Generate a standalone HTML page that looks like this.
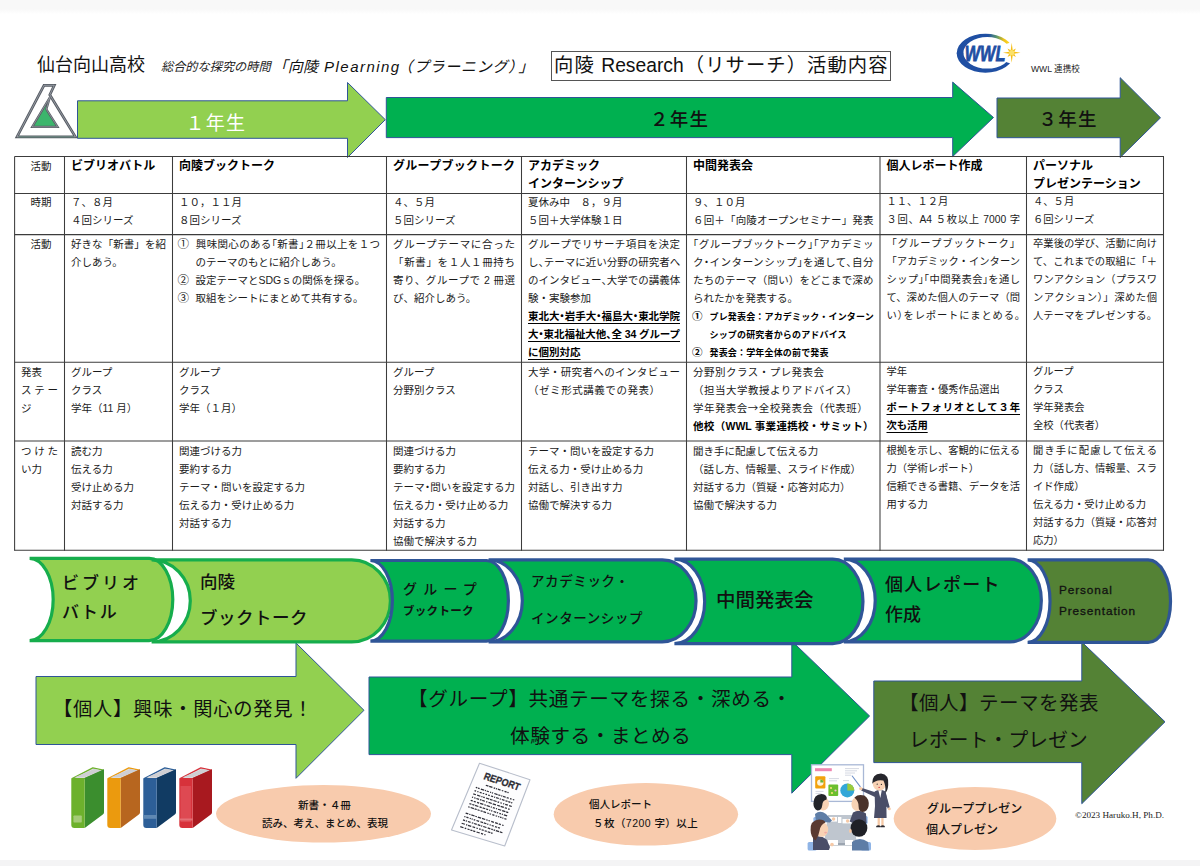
<!DOCTYPE html>
<html lang="ja">
<head>
<meta charset="utf-8">
<title>向陵 Research（リサーチ）活動内容</title>
<style>
html,body{margin:0;padding:0;}
body{width:1200px;height:866px;overflow:hidden;background:#fff;position:relative;
  font-family:"Liberation Sans","Noto Sans CJK JP",sans-serif;color:#111;}
#page{position:absolute;left:0;top:0;width:1200px;height:866px;overflow:hidden;background:#fff;}
.band-top{position:absolute;left:0;top:0;width:1200px;height:14px;background:linear-gradient(#f8f8f8 0,#f8f8f8 9px,#fff 14px);}
.band-bot{position:absolute;left:0;top:860px;width:1200px;height:6px;background:#f4f4f5;}
#shapes{position:absolute;left:0;top:0;width:1200px;height:866px;}
.t{position:absolute;white-space:nowrap;line-height:1;}
/* table */
.cell{position:absolute;font-size:10.5px;line-height:18.1px;color:#1a1a1a;}
.cell div{white-space:nowrap;height:18.1px;}
.cell.c6,.cell.c7{font-size:10.3px;}
.cell.r2.c4 .p .b{letter-spacing:-0.12px;}
.cell .j{text-align:justify;text-align-last:justify;}
.cell .p{font-feature-settings:"halt";}
.w5{font-weight:500;color:#111;}
.hd{font-size:12px;font-weight:700;color:#000;}
.b{font-weight:700;color:#000;}
.u{text-decoration:underline;text-underline-offset:3px;text-decoration-thickness:1px;}
.sm{font-size:9px;font-weight:700;color:#000;letter-spacing:0.17px;}
.cell .c{padding-left:9.5px;}
.cell .cj{font-family:"Noto Sans CJK JP",sans-serif;}
.cell .n{display:inline-block;width:18px;margin-left:-1.5px;text-align:left;font-family:"Noto Sans CJK JP",sans-serif;font-size:11.5px;line-height:1;}
.cell .n2{display:inline-block;width:17.5px;margin-left:-1px;text-align:left;font-size:10.5px;font-weight:700;color:#000;font-family:"Noto Sans CJK JP",sans-serif;line-height:1;}
</style>
</head>
<body>
<div id="page">
<div class="band-top"></div>
<div class="band-bot"></div>

<svg id="shapes" width="1200" height="866" viewBox="0 0 1200 866">
  <!-- TOP ARROWS -->
  <g stroke="#2F5597" stroke-width="1" stroke-linejoin="miter">
    <polygon points="77.5,100.8 347.5,100.8 347.5,82.5 385.3,119.7 347.5,157.5 347.5,138.3 77.5,138.3" fill="#92D050"/>
    <polygon points="386.3,97.5 952.7,97.5 952.7,82.1 993.5,117.5 952.7,156.5 952.7,137.6 386.3,137.6" fill="#00B050"/>
    <polygon points="997,98 1120.2,98 1120.2,77.7 1160.5,117.8 1120.2,157.5 1120.2,137.7 997,137.7" fill="#548235"/>
  </g>
  <!-- SCHOOL LOGO -->
  <g id="logo" stroke-linejoin="miter">
    <polygon points="44,85.3 54.3,85.3 49.8,94.8 75.4,136.8 17,136.8" fill="#fff" stroke="#565b63" stroke-width="2.7"/>
    <polygon points="44,85.3 54.3,85.3 49.8,94.8 75.4,136.8 17,136.8" fill="none" stroke="#aeb3bb" stroke-width="0.7"/>
    <polygon points="49.9,97.2 46.4,109.3 57.6,126.9 32.2,126.9" fill="#3CB56C" stroke="#565b63" stroke-width="2.2"/>
    <polygon points="49.9,97.2 46.4,109.3 57.6,126.9 32.2,126.9" fill="none" stroke="#aeb3bb" stroke-width="0.6"/>
    <path d="M18.5,136.9 H74" stroke="#2f7a55" stroke-width="0.7" opacity="0.7"/>
  </g>
  <!-- BOTTOM BIG ARROWS -->
  <g stroke="#2F5597" stroke-width="1" stroke-linejoin="miter">
    <polygon points="36,676.5 296,676.5 296,643 364,710.3 296,778.3 296,744.5 36,744.5" fill="#92D050"/>
    <polygon points="369,677 791.8,677 791.8,641 869.6,716 791.8,793.2 791.8,754.6 369,754.6" fill="#00B050"/>
    <polygon points="873.8,681 1081.8,681 1081.8,642 1165,721.8 1081.8,803.7 1081.8,762.6 873.8,762.6" fill="#548235"/>
  </g>
  <!-- CHEVRON TABS -->
  <g stroke-linejoin="miter">
    <path d="M29.6,558.4 L149.2,558.4 A23.6,41.1 0 0 1 149.2,640.6 L29.6,640.6 A23.6,41.1 0 0 0 29.6,558.4 Z" fill="#92D050" stroke="#16AD4C" stroke-width="3.2"/>
    <path d="M151.6,559.8 L351.7,559.8 A38.7,41.0 0 0 1 351.7,641.8 L151.6,641.8 A38.7,41.0 0 0 0 151.6,559.8 Z" fill="#92D050" stroke="#16AD4C" stroke-width="3.2"/>
    <path d="M370.4,560.5 L486.4,560.5 A22.0,40.3 0 0 1 486.4,641.1 L370.4,641.1 A22.0,40.3 0 0 0 370.4,560.5 Z" fill="#00B050" stroke="#2F5597" stroke-width="3.2"/>
    <path d="M488.6,559.9 L662.3,559.9 A33.7,40.9 0 0 1 662.3,641.8 L488.6,641.8 A33.7,40.9 0 0 0 488.6,559.9 Z" fill="#00B050" stroke="#2F5597" stroke-width="3.2"/>
    <path d="M674.4,559.2 L832.7,559.2 A30.3,42.2 0 0 1 832.7,643.6 L674.4,643.6 A30.3,42.2 0 0 0 674.4,559.2 Z" fill="#00B050" stroke="#2F5597" stroke-width="3.2"/>
    <path d="M843.8,559.2 L1009.9,559.2 A31.4,41.3 0 0 1 1009.9,641.9 L843.8,641.9 A31.4,41.3 0 0 0 843.8,559.2 Z" fill="#00B050" stroke="#2F5597" stroke-width="3.2"/>
    <path d="M1027.6,559.9 L1148.1,559.9 A22.4,41.2 0 0 1 1148.1,642.4 L1027.6,642.4 A22.4,41.2 0 0 0 1027.6,559.9 Z" fill="#548235" stroke="#2F5597" stroke-width="3.2"/>
  </g>
  <!-- PEACH ELLIPSES -->
  <g fill="#F8CBAD">
    <ellipse cx="323.5" cy="813.8" rx="107.5" ry="28.8"/>
    <ellipse cx="645.9" cy="814.3" rx="92.2" ry="31.2"/>
    <ellipse cx="975" cy="818.5" rx="81.3" ry="31.6"/>
  </g>
  <!-- WWL LOGO -->
  <defs>
    <linearGradient id="wg" gradientUnits="userSpaceOnUse" x1="988" y1="40" x2="1008" y2="40">
      <stop offset="0" stop-color="#1F4FA3"/><stop offset="0.45" stop-color="#5E9A6A"/><stop offset="0.8" stop-color="#F2C318"/><stop offset="1" stop-color="#F9D423"/>
    </linearGradient>
    <clipPath id="wtop"><rect x="950" y="28" width="70" height="25.4"/></clipPath>
    <clipPath id="wbot"><path d="M950,52.7 H1020 V80 H950 Z"/></clipPath>
  </defs>
  <g id="wwl">
    <path clip-path="url(#wbot)" fill-rule="evenodd" fill="#1F4FA3" d="M956.7,53.2 a28.7,19.5 0 1 0 57.4,0 a28.7,19.5 0 1 0 -57.4,0 Z M963.4,52.8 a23.8,15.8 0 1 0 47.6,0 a23.8,15.8 0 1 0 -47.6,0 Z"/>
    <path clip-path="url(#wtop)" fill-rule="evenodd" fill="url(#wg)" d="M956.7,53.2 a28.7,19.5 0 1 0 57.4,0 a28.7,19.5 0 1 0 -57.4,0 Z M963.4,52.8 a23.8,15.8 0 1 0 47.6,0 a23.8,15.8 0 1 0 -47.6,0 Z"/>
    <path d="M1006,44 L1018,40 L1018,66 L1006,62 Z" fill="#fff"/>
    <text x="964.8" y="61" font-family="Liberation Sans, sans-serif" font-weight="700" font-style="italic" font-size="22" fill="#1F4FA3" stroke="#1F4FA3" stroke-width="0.8" textLength="40.5" lengthAdjust="spacingAndGlyphs">WWL</text>
    <polygon points="1011.7,42.7 1012.7,50.2 1015.9,48.5 1014.2,51.7 1020.5,52.7 1014.2,53.7 1015.9,56.9 1012.7,55.2 1011.7,62.7 1010.7,55.2 1007.5,56.9 1009.2,53.7 1002.9,52.7 1009.2,51.7 1007.5,48.5 1010.7,50.2" fill="#F5BE14"/>
    <circle cx="1011.7" cy="52.7" r="2.6" fill="#FBE16A"/>
  </g>
  <!--ILLUS-START-->
  <!-- BOOKS -->
  <g id="books">
    <polygon points="72.1,778.6 84.7,778.6 103.4,770.2 92.8,767.9" fill="#E4E4E6" stroke="#6DB12C" stroke-width="1.2" stroke-linejoin="round"/>
    <polygon points="74.3,777.6 84.2,777.6 102.0,770.4 94.0,769" fill="#CFCFD3"/>
    <path d="M84.7,778 L104.0,769.3 L104.0,812.5 Q104.0,814 102.5,814.8 L84.7,828 Z" fill="#3B8E2E"/>
    <path d="M71.3,779.5 Q71.3,778 72.8,778 L84.7,778 L84.7,828 L74.3,828 Q71.3,828 71.3,825 Z" fill="#6DB12C"/>
    <rect x="73.4" y="815.4" width="8.4" height="7.2" rx="0.8" fill="#A5CB78"/>
    <polygon points="108.1,778.6 120.7,778.6 139.4,770.2 128.8,767.9" fill="#E4E4E6" stroke="#EB9A0E" stroke-width="1.2" stroke-linejoin="round"/>
    <polygon points="110.3,777.6 120.2,777.6 138.0,770.4 130.0,769" fill="#CFCFD3"/>
    <path d="M120.7,778 L140.0,769.3 L140.0,812.5 Q140.0,814 138.5,814.8 L120.7,828 Z" fill="#B7661F"/>
    <path d="M107.3,779.5 Q107.3,778 108.8,778 L120.7,778 L120.7,828 L110.3,828 Q107.3,828 107.3,825 Z" fill="#EB9A0E"/>
    <polygon points="144.1,778.6 156.7,778.6 175.4,770.2 164.8,767.9" fill="#E4E4E6" stroke="#2D5F98" stroke-width="1.2" stroke-linejoin="round"/>
    <polygon points="146.3,777.6 156.2,777.6 174.0,770.4 166.0,769" fill="#CFCFD3"/>
    <path d="M156.7,778 L176.0,769.3 L176.0,812.5 Q176.0,814 174.5,814.8 L156.7,828 Z" fill="#113B63"/>
    <path d="M143.3,779.5 Q143.3,778 144.8,778 L156.7,778 L156.7,828 L146.3,828 Q143.3,828 143.3,825 Z" fill="#2D5F98"/>
    <rect x="143.3" y="815" width="13.4" height="3.8" fill="#5F88B3"/>
    <polygon points="180.1,778.6 192.7,778.6 211.4,770.2 200.8,767.9" fill="#E4E4E6" stroke="#D7323B" stroke-width="1.2" stroke-linejoin="round"/>
    <polygon points="182.3,777.6 192.2,777.6 210.0,770.4 202.0,769" fill="#CFCFD3"/>
    <path d="M192.7,778 L212.0,769.3 L212.0,812.5 Q212.0,814 210.5,814.8 L192.7,828 Z" fill="#A8191F"/>
    <path d="M179.3,779.5 Q179.3,778 180.8,778 L192.7,778 L192.7,828 L182.3,828 Q179.3,828 179.3,825 Z" fill="#D7323B"/>
    <rect x="180.5" y="786" width="10.4" height="36" fill="#E0525B" opacity="0.75"/>
    <rect x="179.3" y="818.5" width="13.4" height="2" fill="#E57A80" opacity="0.8"/>
  </g>
<!-- REPORT SHEET -->
  <g id="report">
    <polygon points="479.5,763.2 530,779.7 504.7,846 451.5,830" fill="#FDFDFE" stroke="#B8BECB" stroke-width="1.1" stroke-linejoin="round"/>
    <g transform="translate(479.5,763.2) rotate(18.1) skewX(-3.5)">
      <text x="9" y="13.9" font-family="Liberation Sans, sans-serif" font-weight="700" font-size="10.2" fill="#2b2b33" stroke="#2b2b33" stroke-width="0.3" textLength="37.5" lengthAdjust="spacingAndGlyphs">REPORT</text>
      <path d="M14.0,19.0h2.8 M17.6,19.0h3.4 M22.3,19.0h1.6 M24.7,19.0h1.2 M26.7,19.0h2.8 M30.8,19.0h1.6 M33.7,19.0h2.2 M36.7,19.0h1.3 M5.5,24.2h1.6 M7.9,24.2h1.6 M10.8,24.2h3.4 M15.0,24.2h1.2 M17.0,24.2h2.2 M20.5,24.2h1.2 M22.5,24.2h1.2 M25.0,24.2h3.4 M29.2,24.2h2.2 M32.2,24.2h1.2 M34.2,24.2h2.8 M38.0,24.2h2.2 M41.5,24.2h1.6 M44.4,24.2h1.6 M5.5,27.6h1.6 M8.4,27.6h1.2 M10.9,27.6h2.2 M14.1,27.6h1.6 M17.0,27.6h1.6 M19.9,27.6h1.6 M22.8,27.6h2.2 M26.0,27.6h1.2 M28.2,27.6h2.8 M32.0,27.6h1.2 M34.2,27.6h2.8 M38.0,27.6h2.2 M41.0,27.6h2.2 M44.0,27.6h1.2 M5.5,31.1h2.8 M9.6,31.1h3.4 M14.0,31.1h1.2 M16.0,31.1h1.6 M18.9,31.1h3.4 M23.1,31.1h2.8 M26.7,31.1h3.4 M31.1,31.1h1.6 M34.0,31.1h1.6 M36.9,31.1h1.2 M39.1,31.1h2.8 M43.2,31.1h2.8 M5.5,34.5h1.2 M7.7,34.5h1.6 M10.1,34.5h2.8 M13.9,34.5h1.6 M16.3,34.5h2.8 M20.4,34.5h1.2 M22.9,34.5h3.4 M27.3,34.5h3.4 M32.0,34.5h2.8 M35.6,34.5h3.4 M40.0,34.5h2.2 M43.5,34.5h1.6 M5.5,38.0h2.2 M8.7,38.0h2.2 M12.2,38.0h2.2 M15.4,38.0h3.4 M19.8,38.0h1.6 M22.2,38.0h3.4 M26.6,38.0h1.2 M28.8,38.0h2.2 M32.0,38.0h1.2 M34.2,38.0h3.4 M38.6,38.0h3.4 M42.8,38.0h2.2 M5.5,41.5h2.2 M8.5,41.5h2.2 M11.5,41.5h3.4 M16.2,41.5h2.2 M19.4,41.5h2.8 M23.0,41.5h2.2 M26.2,41.5h1.2 M28.4,41.5h1.2 M30.9,41.5h2.8 M34.5,41.5h1.2 M37.0,41.5h1.6 M39.6,41.5h1.2 M41.8,41.5h3.4 M5.5,44.9h1.6 M8.1,44.9h3.4 M12.3,44.9h2.2 M15.3,44.9h2.2 M18.5,44.9h2.2 M21.5,44.9h2.8 M25.6,44.9h1.6 M28.0,44.9h1.6 M30.9,44.9h2.2 M34.4,44.9h1.6 M37.0,44.9h1.2 M39.0,44.9h1.6 M41.4,44.9h1.2 M43.6,44.9h2.2 M5.5,51.7h2.8 M9.3,51.7h1.2 M11.5,51.7h3.4 M15.7,51.7h1.6 M18.3,51.7h3.4 M22.7,51.7h3.4 M27.1,51.7h1.6 M29.5,51.7h1.6 M32.4,51.7h2.8 M36.5,51.7h2.8 M40.3,51.7h2.2 M43.8,51.7h1.6 M5.5,55.4h1.2 M7.7,55.4h2.2 M11.2,55.4h1.2 M13.2,55.4h1.2 M15.4,55.4h1.6 M18.3,55.4h2.8 M22.4,55.4h2.8 M26.0,55.4h2.8 M29.6,55.4h1.2 M32.1,55.4h1.2 M34.3,55.4h2.2 M37.8,55.4h2.2 M40.8,55.4h2.2 M5.5,59.0h2.2 M8.5,59.0h1.2 M10.7,59.0h2.8 M14.8,59.0h1.6 M17.2,59.0h2.8 M21.0,59.0h2.8 M24.6,59.0h1.2 M26.8,59.0h3.4 M31.5,59.0h2.8 M35.3,59.0h1.6 M37.7,59.0h1.6 M40.1,59.0h3.4 M44.3,59.0h2.7 M5.5,62.6h3.4 M10.2,62.6h1.2 M12.2,62.6h3.4 M16.9,62.6h2.8 M21.0,62.6h1.6 M23.9,62.6h1.6 M26.5,62.6h2.2 M29.7,62.6h2.2 M32.9,62.6h2.8 M36.5,62.6h1.5 M5.5,66.3h3.4 M10.2,66.3h1.6 M13.1,66.3h2.2 M16.1,66.3h2.2 M19.1,66.3h2.2 M22.6,66.3h3.4 M27.3,66.3h2.2 M30.8,66.3h1.2" stroke="#2f2f38" stroke-width="1.25" fill="none"/>
    </g>
  </g>
<!-- PRESENTATION SCENE -->
  <g id="scene">
    <rect x="811.5" y="764.8" width="52" height="36.6" fill="#FFFFFF" stroke="#A9B8D6" stroke-width="1.3"/>
    <rect x="815" y="768.2" width="16.8" height="3" fill="#EE86B0"/>
    <rect x="815.2" y="776.2" width="10.2" height="12.4" rx="1" fill="#F2A20C"/>
    <circle cx="820.3" cy="782.6" r="3.2" fill="#FDF3D8"/><path d="M820.3,782.6 L820.3,779.4 A3.2,3.2 0 0 1 823.5,782.6 Z" fill="#6BB536"/>
    <rect x="828.4" y="784.4" width="9.8" height="11.6" rx="1" fill="#6CBF2E"/>
    <circle cx="831" cy="788" r="1.1" fill="#F7E27A"/><circle cx="835.5" cy="790.5" r="1.1" fill="#F5B6D0"/><circle cx="832" cy="793" r="1.1" fill="#F7E27A"/>
    <circle cx="847.3" cy="790.4" r="7" fill="#33A7D8"/><path d="M847.3,790.4 L847.3,783.4 A7,7 0 0 1 854.3,790.4 Z" fill="#9CCB3B"/>
    <path d="M845,768.6h14 M845,770.8h12 M845,773h10 M845,775.2h6 M829,778.6h10 M829,780.8h8 M843,780.6h6 M815.5,791.4h8 M815.5,793.4h6" stroke="#C9CEDA" stroke-width="0.8"/>
    <path d="M852.2,776 L860.2,786.6" stroke="#6E90C8" stroke-width="1.1" stroke-linecap="round"/>
    <path d="M877.6,817 h2.3 v9 h-2.3 Z M881.3,817 h2.3 v9 h-2.3 Z" fill="#F6C9A6"/>
    <path d="M876.2,826 q2.2,-1.4 4.2,0 v1.2 h-4.2 Z M880.6,826 q2.2,-1.4 4.2,0 v1.2 h-4.2 Z" fill="#2B2B33"/>
    <path d="M874.6,791.5 Q880,788.6 885.6,791.5 L888.4,806 L886.4,807 L886.6,818 L874,818 L875,806 Z" fill="#4A4E68"/>
    <path d="M878.4,790.2 L881.8,790.2 L880.3,798 Z" fill="#FFFFFF"/>
    <path d="M876,792.6 L862,788 L861.2,790.4 L875,797 Z" fill="#4A4E68"/>
    <circle cx="860.8" cy="788.6" r="1.7" fill="#F6C9A6"/>
    <path d="M886,794 L889.8,807.6 L887.6,808.4 L884.4,797 Z" fill="#4A4E68"/><circle cx="889.3" cy="808.8" r="1.5" fill="#F6C9A6"/>
    <ellipse cx="879.4" cy="783.6" rx="6.7" ry="7" fill="#F8D2B4"/>
    <path d="M872.2,783.8 Q871.8,773.8 881,773.4 Q889.4,774.2 888.2,785 Q887.8,791 885.2,792.8 Q886.2,786 883.4,780.6 Q879,779.6 875.2,781.6 Q873,782.6 872.2,783.8 Z" fill="#26262C"/>
    <circle cx="877.2" cy="784.2" r="0.6" fill="#2b2b2b"/><circle cx="881.4" cy="784.4" r="0.6" fill="#2b2b2b"/><ellipse cx="879.2" cy="787.4" rx="0.9" ry="0.7" fill="#D9575A"/>
    <path d="M828,815 L853.6,815 L856.6,843 L824,843 Z" fill="#BFC6CF"/>
    <path d="M824,843 L856.6,843 L856.6,845.6 L824,845.6 Z" fill="#9CA5B0"/>
    <rect x="838" y="817" width="3.4" height="6" fill="#FFFFFF"/><rect x="842.5" y="819" width="9" height="4.4" fill="#FFFFFF"/><rect x="829" y="817" width="8" height="4.6" fill="#FFFFFF"/>
    <rect x="828" y="840" width="10" height="5" fill="#FFFFFF"/><rect x="845" y="840" width="8" height="5" fill="#FFFFFF"/>
    <rect x="813.4" y="817" width="9" height="6" rx="1.5" fill="#8FB4E6"/><rect x="860" y="816" width="7.6" height="8" rx="1.5" fill="#8FB4E6"/>
    <rect x="807.6" y="842" width="9" height="8.6" rx="1.6" fill="#8FB4E6"/><rect x="861" y="842" width="10" height="8.6" rx="1.6" fill="#8FB4E6"/>
    <path d="M815,814 Q820,809.6 826,814 L832,820.6 L830,822.4 L816,821.6 Z" fill="#5E7DA6"/>
    <circle cx="833.6" cy="819" r="1.7" fill="#F6C9A6"/>
    <ellipse cx="823" cy="803.6" rx="6" ry="6.8" fill="#F8D2B4"/>
    <path d="M813.4,803.4 Q813.6,794.4 821.6,794 Q827.6,794.6 826.6,799.6 Q822.6,800.4 822.2,805.4 Q821.6,810.4 817.4,810.6 Q813.4,808.4 813.4,803.4 Z" fill="#23242A"/>
    <path d="M853,812.6 Q859.6,808.6 866,813.6 L866.6,823 L853,823 L849.6,821.6 Z" fill="#4A4E68"/>
    <circle cx="847.6" cy="821" r="1.7" fill="#F6C9A6"/>
    <ellipse cx="857.4" cy="804" rx="6" ry="7" fill="#F8D2B4"/>
    <path d="M854.4,797.4 Q858.4,793.6 864.4,795.6 Q869.6,799 868.6,806 Q867.6,811.4 862.6,812 Q858.6,811 858.6,806.4 Q858.8,801.4 854.4,797.4 Z" fill="#4A322B"/>
    <path d="M813,838 Q819.6,834 826.6,839.6 L830,847 L829,850 L813,850 Z" fill="#4A4E68"/>
    <circle cx="832" cy="844.6" r="1.8" fill="#F6C9A6"/>
    <ellipse cx="821.6" cy="829.4" rx="6.6" ry="7.4" fill="#F8D2B4"/>
    <path d="M810.6,830 Q810,820.6 819,819.6 Q824.6,819.6 825.4,822.6 Q820.6,824.6 819.6,830.6 Q818.6,836.6 815.6,840.6 Q810.6,837 810.6,830 Z" fill="#5A3A31"/>
    <ellipse cx="825.6" cy="832.6" rx="1.4" ry="0.9" fill="#F3A9A4"/>
    <path d="M852,842 Q859.6,836 868,842 L869,850.6 L852,850.6 Z" fill="#5E7DA6"/>
    <ellipse cx="859" cy="828" rx="8.4" ry="8.8" fill="#1F2026"/>
    <ellipse cx="850.4" cy="831" rx="1.4" ry="2" fill="#F6C9A6"/>
  </g>
  <!--ILLUS-END-->
</svg>

<!--TABLE-START-->
<svg class="grid" width="1200" height="866" viewBox="0 0 1200 866" style="position:absolute;left:0;top:0" >
<g stroke="#3c3c3c" stroke-width="1.05">
<line x1="14.6" y1="156.5" x2="14.6" y2="550.8"/>
<line x1="64.5" y1="156.5" x2="64.5" y2="550.8"/>
<line x1="172.5" y1="156.5" x2="172.5" y2="550.8"/>
<line x1="386.5" y1="156.5" x2="386.5" y2="550.8"/>
<line x1="521.5" y1="156.5" x2="521.5" y2="550.8"/>
<line x1="686.5" y1="156.5" x2="686.5" y2="550.8"/>
<line x1="880" y1="156.5" x2="880" y2="550.8"/>
<line x1="1026.5" y1="156.5" x2="1026.5" y2="550.8"/>
<line x1="1163.5" y1="156.5" x2="1163.5" y2="550.8"/>
<line x1="14.6" y1="156.5" x2="1164.0" y2="156.5"/>
<line x1="14.6" y1="193.5" x2="1164.0" y2="193.5"/>
<line x1="14.6" y1="234.6" x2="1164.0" y2="234.6"/>
<line x1="14.6" y1="362.2" x2="1164.0" y2="362.2"/>
<line x1="14.6" y1="441.0" x2="1164.0" y2="441.0"/>
<line x1="14.6" y1="550.3" x2="1164.0" y2="550.3"/>
</g></svg>
<div class="cell r0 c0" style="left:21.1px;top:156.8px;width:36.9px"><div class="c">活動</div></div>
<div class="cell r0 c1" style="left:71.0px;top:156.8px;width:95.0px"><div class="hd">ビブリオバトル</div></div>
<div class="cell r0 c2" style="left:179.0px;top:156.8px;width:201.0px"><div class="hd">向陵ブックトーク</div></div>
<div class="cell r0 c3" style="left:393.0px;top:156.8px;width:122.0px"><div class="hd j">グループブックトーク</div></div>
<div class="cell r0 c4" style="left:528.0px;top:156.8px;width:152.0px"><div class="hd">アカデミック</div><div class="hd">インターンシップ</div></div>
<div class="cell r0 c5" style="left:693.0px;top:156.8px;width:180.5px"><div class="hd">中間発表会</div></div>
<div class="cell r0 c6" style="left:886.5px;top:156.8px;width:133.5px"><div class="hd">個人レポート作成</div></div>
<div class="cell r0 c7" style="left:1033.0px;top:156.8px;width:124.0px"><div class="hd">パーソナル</div><div class="hd">プレゼンテーション</div></div>
<div class="cell r1 c0" style="left:21.1px;top:192.9px;width:36.9px"><div class="c">時期</div></div>
<div class="cell r1 c1" style="left:71.0px;top:192.9px;width:95.0px"><div>７、８月</div><div>４回シリーズ</div></div>
<div class="cell r1 c2" style="left:179.0px;top:192.9px;width:201.0px"><div>１０，１１月</div><div>８回シリーズ</div></div>
<div class="cell r1 c3" style="left:393.0px;top:192.9px;width:122.0px"><div>４、５月</div><div>５回シリーズ</div></div>
<div class="cell r1 c4" style="left:528.0px;top:192.9px;width:152.0px"><div>夏休み中　８，９月</div><div>５回＋大学体験１日</div></div>
<div class="cell r1 c5" style="left:693.0px;top:192.9px;width:180.5px"><div>９、１０月</div><div class="j">６回＋「向陵オープンセミナー」発表</div></div>
<div class="cell r1 c6" style="left:886.5px;top:192.9px;width:133.5px"><div>１１、１２月</div><div class="j">３回、A4 ５枚以上 7000 字</div></div>
<div class="cell r1 c7" style="left:1033.0px;top:192.9px;width:124.0px"><div>４、５月</div><div>６回シリーズ</div></div>
<div class="cell r2 c0" style="left:21.1px;top:234.6px;width:36.9px"><div class="c">活動</div></div>
<div class="cell r2 c1" style="left:71.0px;top:234.6px;width:95.0px"><div class="j">好きな「新書」を紹</div><div>介しあう。</div></div>
<div class="cell r2 c2" style="left:179.0px;top:234.6px;width:201.0px"><div class="j p"><span class="n">①</span>興味関心のある「新書」２冊以上を１つ</div><div><span class="n"></span>のテーマのもとに紹介しあう。</div><div><span class="n">②</span>設定テーマとSDGｓの関係を探る。</div><div><span class="n">③</span>取組をシートにまとめて共有する。</div></div>
<div class="cell r2 c3" style="left:393.0px;top:234.6px;width:122.0px"><div class="j">グループテーマに合った</div><div class="j">「新書」を１人１冊持ち</div><div class="j">寄り、グループで 2 冊選</div><div>び、紹介しあう。</div></div>
<div class="cell r2 c4" style="left:528.0px;top:234.6px;width:152.0px"><div class="j">グループでリサーチ項目を決定</div><div class="j p">し、テーマに近い分野の研究者へ</div><div class="j p">のインタビュー、大学での講義体</div><div>験・実験参加</div><div class="j p"><span class="b u">東北大・岩手大・福島大・東北学院</span></div><div class="j p"><span class="b u">大・東北福祉大他、全 34 グループ</span></div><div><span class="b u">に個別対応</span></div></div>
<div class="cell r2 c5" style="left:693.0px;top:234.6px;width:180.5px"><div class="j p">「グループブックトーク」「アカデミッ</div><div class="j p">ク・インターンシップ」を通して、自分</div><div class="j">たちのテーマ（問い）をどこまで深め</div><div>られたかを発表する。</div><div><span class="n2">①</span><span class="sm">プレ発表会：アカデミック・インターン</span></div><div><span class="n2"></span><span class="sm">シップの研究者からのアドバイス</span></div><div><span class="n2">②</span><span class="sm">発表会：学年全体の前で発表</span></div></div>
<div class="cell r2 c6" style="left:886.5px;top:234.6px;width:133.5px"><div class="j">「グループブックトーク」</div><div class="j">「アカデミック・インターン</div><div class="j p">シップ」「中間発表会」を通し</div><div class="j">て、深めた個人のテーマ（問</div><div class="j p">い）をレポートにまとめる。</div></div>
<div class="cell r2 c7" style="left:1033.0px;top:234.6px;width:124.0px"><div class="j">卒業後の学び、活動に向け</div><div class="j">て、これまでの取組に「＋</div><div class="j">ワンアクション（プラスワ</div><div class="j">ンアクション）」深めた個</div><div class="j">人テーマをプレゼンする。</div></div>
<div class="cell r3 c0" style="left:21.1px;top:362.5px;width:36.9px"><div>発表</div><div class="j">ステー</div><div>ジ</div></div>
<div class="cell r3 c1" style="left:71.0px;top:362.5px;width:95.0px"><div>グループ</div><div>クラス</div><div>学年（11 月）</div></div>
<div class="cell r3 c2" style="left:179.0px;top:362.5px;width:201.0px"><div>グループ</div><div>クラス</div><div>学年（１月）</div></div>
<div class="cell r3 c3" style="left:393.0px;top:362.5px;width:122.0px"><div>グループ</div><div>分野別クラス</div></div>
<div class="cell r3 c4" style="left:528.0px;top:362.5px;width:152.0px"><div class="j">大学・研究者へのインタビュー</div><div><span style="letter-spacing:0.55px">（ゼミ形式講義での発表）</span></div></div>
<div class="cell r3 c5" style="left:693.0px;top:362.5px;width:180.5px"><div><span style="letter-spacing:0.48px">分野別クラス・プレ発表会</span></div><div><span style="letter-spacing:0.5px">（担当大学教授よりアドバイス）</span></div><div><span style="letter-spacing:0.45px">学年発表会<span class="cj">→</span>全校発表会（代表班）</span></div><div class="j"><span class="b">他校（WWL 事業連携校・サミット）</span></div></div>
<div class="cell r3 c6" style="left:886.5px;top:362.5px;width:133.5px"><div>学年</div><div>学年審査・優秀作品選出</div><div class="j"><span class="b u">ポートフォリオとして３年</span></div><div><span class="b u">次も活用</span></div></div>
<div class="cell r3 c7" style="left:1033.0px;top:362.5px;width:124.0px"><div>グループ</div><div>クラス</div><div>学年発表会</div><div>全校（代表者）</div></div>
<div class="cell r4 c0" style="left:21.1px;top:441.5px;width:36.9px"><div class="j">つけた</div><div>い力</div></div>
<div class="cell r4 c1" style="left:71.0px;top:441.5px;width:95.0px"><div>読む力</div><div>伝える力</div><div>受け止める力</div><div>対話する力</div></div>
<div class="cell r4 c2" style="left:179.0px;top:441.5px;width:201.0px"><div>関連づける力</div><div>要約する力</div><div>テーマ・問いを設定する力</div><div>伝える力・受け止める力</div><div>対話する力</div></div>
<div class="cell r4 c3" style="left:393.0px;top:441.5px;width:122.0px"><div>関連づける力</div><div>要約する力</div><div class="j p">テーマ・問いを設定する力</div><div>伝える力・受け止める力</div><div>対話する力</div><div>協働で解決する力</div></div>
<div class="cell r4 c4" style="left:528.0px;top:441.5px;width:152.0px"><div>テーマ・問いを設定する力</div><div>伝える力・受け止める力</div><div>対話し、引き出す力</div><div>協働で解決する力</div></div>
<div class="cell r4 c5" style="left:693.0px;top:441.5px;width:180.5px"><div>聞き手に配慮して伝える力</div><div>（話し方、情報量、スライド作成）</div><div>対話する力（質疑・応答対応力）</div><div>協働で解決する力</div></div>
<div class="cell r4 c6" style="left:886.5px;top:441.5px;width:133.5px"><div class="j">根拠を示し、客観的に伝える</div><div>力（学術レポート）</div><div class="j">信頼できる書籍、データを活</div><div>用する力</div></div>
<div class="cell r4 c7" style="left:1033.0px;top:441.5px;width:124.0px"><div class="j">聞き手に配慮して伝える</div><div class="j">力（話し方、情報量、スラ</div><div>イド作成）</div><div>伝える力・受け止める力</div><div class="j">対話する力（質疑・応答対</div><div>応力）</div></div>
<!--TABLE-END-->
<!--TEXTS-START-->
<!-- title row -->
<div class="t" style="left:37px;top:56px;font-size:18px;color:#111;">仙台向山高校</div>
<div class="t" style="left:161px;top:61px;font-size:12.2px;font-style:italic;color:#222;">総合的な探究の時間</div>
<div class="t" style="left:280px;top:58.5px;font-size:15px;font-style:italic;color:#111;font-feature-settings:'halt';letter-spacing:0.2px;">「向陵<span style="display:inline-block;width:6px"></span><span style="letter-spacing:1.45px;">Plearning</span><span style="display:inline-block;width:4.5px"></span>（<span style="display:inline-block;width:1px"></span><span style="letter-spacing:0.75px">プラーニング</span>）<span style="display:inline-block;width:2.5px"></span>」</div>
<div class="t box" style="left:551px;top:50.5px;width:339.5px;height:30.5px;border:1px solid #555;box-sizing:border-box;font-size:19.3px;line-height:27px;padding:0 2px 0 2px;text-align:justify;text-align-last:justify;color:#111;">向陵 Research（リサーチ）活動内容</div>
<div class="t" style="left:1031px;top:65px;font-size:8.6px;color:#222;">WWL 連携校</div>
<!-- year labels -->
<div class="t" style="left:185.5px;top:114px;font-size:19px;color:#fff;letter-spacing:1.3px;">１年生</div>
<div class="t" style="left:650px;top:110.5px;font-size:18.5px;font-weight:500;color:#111;letter-spacing:1.2px;">２年生</div>
<div class="t" style="left:1038.5px;top:110.5px;font-size:18.5px;font-weight:500;color:#111;letter-spacing:1.2px;">３年生</div>
<!-- chevron labels -->
<div class="t w5" style="left:62px;top:575px;font-size:17px;letter-spacing:3px;">ビブリオ</div>
<div class="t w5" style="left:62px;top:604px;font-size:17px;letter-spacing:1.6px;">バトル</div>
<div class="t w5" style="left:200px;top:574px;font-size:17.5px;">向陵</div>
<div class="t w5" style="left:200px;top:610px;font-size:17.5px;letter-spacing:0.5px;">ブックトーク</div>
<div class="t w5" style="left:403px;top:581.5px;font-size:14px;letter-spacing:6.2px;">グループ</div>
<div class="t w5" style="left:403px;top:605.5px;font-size:11.5px;letter-spacing:0.3px;font-weight:700;">ブックトーク</div>
<div class="t w5" style="left:531px;top:575px;font-size:13.5px;letter-spacing:0.6px;">アカデミック・</div>
<div class="t w5" style="left:531px;top:612px;font-size:13.5px;letter-spacing:0.6px;">インターンシップ</div>
<div class="t w5" style="left:716px;top:591px;font-size:19.5px;">中間発表会</div>
<div class="t w5" style="left:885px;top:576px;font-size:18px;letter-spacing:1.3px;">個人レポート</div>
<div class="t w5" style="left:885px;top:605.5px;font-size:18px;">作成</div>
<div class="t w5" style="left:1059px;top:585px;font-size:11.8px;letter-spacing:0.9px;-webkit-text-stroke:0.3px #111;">Personal</div>
<div class="t w5" style="left:1059px;top:605.5px;font-size:11.8px;letter-spacing:0.9px;-webkit-text-stroke:0.3px #111;">Presentation</div>
<!-- big arrow labels -->
<div class="t w5" style="left:53px;top:699.5px;font-size:19.3px;letter-spacing:0.75px;font-weight:400;">【個人】興味・関心の発見！</div>
<div class="t w5" style="left:408px;top:689.5px;font-size:19.6px;letter-spacing:0.68px;font-weight:400;">【グループ】共通テーマを探る・深める・</div>
<div class="t w5" style="left:510px;top:726.5px;font-size:19.8px;letter-spacing:0.35px;font-weight:400;">体験する・まとめる</div>
<div class="t w5" style="left:899px;top:693.5px;font-size:19.5px;letter-spacing:0.5px;font-weight:400;">【個人】テーマを発表</div>
<div class="t w5" style="left:909px;top:730.5px;font-size:19.7px;letter-spacing:0.2px;font-weight:400;">レポート・プレゼン</div>
<!-- ellipse labels -->
<div class="t w5" style="left:298px;top:799.5px;font-size:10.6px;">新書・４冊</div>
<div class="t w5" style="left:262px;top:818px;font-size:10.5px;">読み、考え、まとめ、表現</div>
<div class="t w5" style="left:589px;top:799px;font-size:10.5px;">個人レポート</div>
<div class="t w5" style="left:593px;top:818px;font-size:10.5px;letter-spacing:0.45px;">５枚（7200 字）以上</div>
<div class="t w5" style="left:927px;top:803.2px;font-size:12px;">グループプレゼン</div>
<div class="t w5" style="left:926px;top:824.3px;font-size:12px;">個人プレゼン</div>
<div class="t" style="left:1075px;top:810.5px;font-size:9.15px;font-family:'Liberation Serif',serif;color:#222;">©2023 Haruko.H, Ph.D.</div>
<!--TEXTS-END-->
</div>
</body>
</html>
